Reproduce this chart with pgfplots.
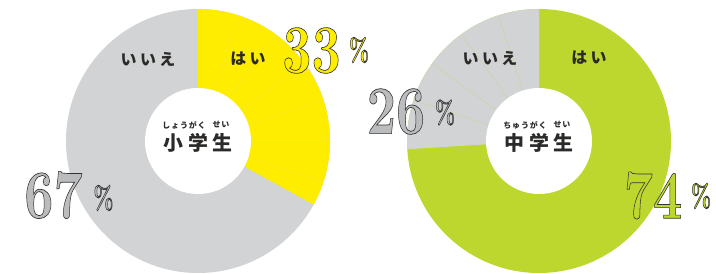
\documentclass[border=0pt]{standalone}
\usepackage{fontspec}
\usepackage{graphicx}
\usepackage{pgfplots}
\pgfplotsset{compat=1.18}
\setmainfont{Latin Modern Roman}
\newfontfamily\numf{lmroman10-bold.otf}
\newfontfamily\jp{Noto Sans CJK JP}
\definecolor{yel}{HTML}{FFED00}
\definecolor{gr}{HTML}{D1D3D4}
\definecolor{grn}{HTML}{BED72F}
\definecolor{numgr}{HTML}{BBBCBE}
\definecolor{txt}{HTML}{2B2A29}
\colorlet{yline}{yel!75!gr}
\colorlet{gline}{gr!65!grn}
% values (percent)
\def\esYes{33}\def\esNo{67}
\def\jsYes{74}\def\jsNo{26}
\newcommand\outl[2]{\textcolor{#1}{\special{pdf:code q 2 Tr 0.7 w 0.2 0.2 0.2 RG}#2\special{pdf:code Q}}}
\newcommand\bignum[2]{\scalebox{0.74}[1]{\numf\fontsize{69}{69}\selectfont\outl{#1}{#2}}}
\newcommand\pct[1]{\scalebox{0.66}[1]{\numf\fontsize{32}{32}\selectfont\outl{#1}{\%}}}
\begin{document}
\begin{tikzpicture}
\useasboundingbox (0,0) rectangle (716bp,274bp);
\begin{axis}[at={(0,0)},anchor=south west,scale only axis,width=716bp,height=274bp,
  xmin=0,xmax=716,ymin=0,ymax=274,y dir=reverse,hide axis,clip=false]
% ---- left donut
\fill[gr] (axis cs:198,141) circle[radius=132bp];
\fill[yel] (axis cs:198,141) -- ++(90:132bp) arc[start angle=90,end angle={90-3.6*\esYes},radius=132bp] -- cycle;
\pgfplotsinvokeforeach{18,36,54,72,90,108}{\draw[yline,line width=0.4bp] (axis cs:198,141) ++(90-#1:53bp) -- ++(90-#1:79bp);}
\fill[white] (axis cs:198,141) circle[radius=53bp];
% ---- right donut
\fill[grn] (axis cs:539,141) circle[radius=132bp];
\fill[gr] (axis cs:539,141) -- ++(90:132bp) arc[start angle=90,end angle={90+3.6*\jsNo},radius=132bp] -- cycle;
\pgfplotsinvokeforeach{18,36,54,72}{\draw[gline,line width=0.4bp] (axis cs:539,141) ++(90+#1:53bp) -- ++(90+#1:79bp);}
\fill[white] (axis cs:539,141) circle[radius=53bp];
% ---- segment labels
\begin{scope}[every node/.style={inner sep=0pt,text=txt,font=\jp\bfseries\fontsize{16}{16}\selectfont\addfontfeature{LetterSpace=22}}]
\node at (axis cs:148,59) {いいえ};
\node at (axis cs:248,59) {はい};
\node at (axis cs:490,58) {いいえ};
\node at (axis cs:589,58) {はい};
\end{scope}
% ---- centre labels
\begin{scope}[every node/.style={inner sep=0pt,text=txt}]
\node[font=\jp\bfseries\fontsize{8}{8}\selectfont\addfontfeature{LetterSpace=10}] at (axis cs:184,125) {しょうがく};
\node[font=\jp\bfseries\fontsize{8}{8}\selectfont\addfontfeature{LetterSpace=10}] at (axis cs:221,125) {せい};
\node[font=\jp\bfseries\fontsize{20}{20}\selectfont\addfontfeature{LetterSpace=22}] at (axis cs:198,143) {小学生};
\node[font=\jp\bfseries\fontsize{8}{8}\selectfont\addfontfeature{LetterSpace=10}] at (axis cs:525,125) {ちゅうがく};
\node[font=\jp\bfseries\fontsize{8}{8}\selectfont\addfontfeature{LetterSpace=10}] at (axis cs:562,125) {せい};
\node[font=\jp\bfseries\fontsize{20}{20}\selectfont\addfontfeature{LetterSpace=22}] at (axis cs:539,143) {中学生};
\end{scope}
% ---- big percentages
\begin{scope}[every node/.style={inner sep=0pt}]
\node at (axis cs:311.5,50.5) {\bignum{yel}{\esYes}};
\node at (axis cs:359,50) {\pct{yel}};
\node at (axis cs:53.5,195) {\bignum{numgr}{\esNo}};
\node at (axis cs:103.5,198) {\pct{numgr}};
\node at (axis cs:396,111.5) {\bignum{numgr}{\jsNo}};
\node at (axis cs:445,112.5) {\pct{numgr}};
\node at (axis cs:653,195.5) {\bignum{grn}{\jsYes}};
\node at (axis cs:701,196) {\pct{grn}};
\end{scope}
\end{axis}
\end{tikzpicture}
\end{document}
